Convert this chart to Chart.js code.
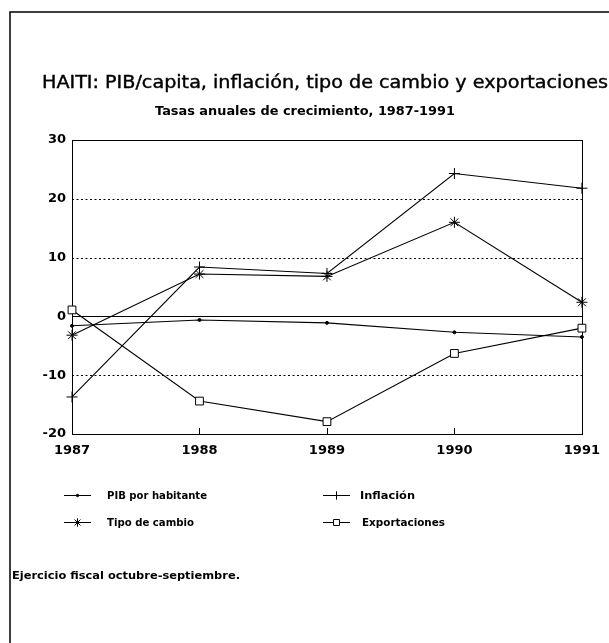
<!DOCTYPE html>
<html>
<head>
<meta charset="utf-8">
<script src="https://cdn.jsdelivr.net/npm/chart.js@4/dist/chart.umd.min.js"></script>
<style>
  html, body { margin: 0; padding: 0; background: #fff; }
  #wrap { position: relative; width: 609px; height: 643px; }
  canvas { display: block; }
</style>
</head>
<body>
<div id="wrap"><canvas id="c" width="609" height="643"></canvas></div>
<script>
// ---- data ----
const years = ['1987', '1988', '1989', '1990', '1991'];
const pibPorHabitante = [-1.6, -0.6, -1.1, -2.7, -3.5];
const inflacion = [-13.7, 8.4, 7.3, 24.3, 21.8];
const tipoDeCambio = [-3.2, 7.2, 6.8, 16.0, 2.4];
const exportaciones = [1.1, -14.4, -17.9, -6.3, -2.0];
const yTicks = [-20, -10, 0, 10, 20, 30];
const seriesNames = ['PIB por habitante', 'Inflación', 'Tipo de cambio', 'Exportaciones'];
const titleText = 'HAITI: PIB/capita, inflación, tipo de cambio y exportaciones';
const subtitleText = 'Tasas anuales de crecimiento, 1987-1991';
const noteText = 'Ejercicio fiscal octubre-septiembre.';

const FONT = '"DejaVu Sans", "Liberation Sans", Arial, sans-serif';

function fitText(ctx, text, x, y, width, font, strokeW) {
  ctx.save();
  ctx.font = font;
  const m = ctx.measureText(text).width;
  const s = width / m;
  ctx.translate(x, y);
  ctx.scale(s, 1);
  ctx.textAlign = 'left';
  ctx.textBaseline = 'alphabetic';
  ctx.fillStyle = '#000';
  ctx.fillText(text, 0, 0);
  if (strokeW) {
    ctx.strokeStyle = '#000';
    ctx.lineWidth = strokeW;
    ctx.strokeText(text, 0, 0);
  }
  ctx.restore();
}

function drawMarker(ctx, style, radius, x, y) {
  const H = Chart.helpers;
  if (H && H.drawPoint) {
    H.drawPoint(ctx, { pointStyle: style, radius: radius, rotation: 0, borderWidth: 1 }, x, y);
  }
}

const decor = {
  id: 'decor',
  beforeDatasetsDraw(chart) {
    const ctx = chart.ctx;
    const a = chart.chartArea;
    const ys = chart.scales.y;
    const xs = chart.scales.x;
    ctx.save();
    ctx.strokeStyle = '#000';
    ctx.lineWidth = 1;
    // dotted grid lines
    ctx.setLineDash([2, 2.5]);
    ys.ticks.forEach(t => {
      if (t.value === ys.min || t.value === ys.max || t.value === 0) return;
      const py = Math.round(ys.getPixelForValue(t.value)) + 0.5;
      ctx.beginPath();
      ctx.moveTo(a.left, py);
      ctx.lineTo(a.right, py);
      ctx.stroke();
    });
    ctx.setLineDash([]);
    // zero line
    const pz = Math.round(ys.getPixelForValue(0)) + 0.5;
    ctx.beginPath();
    ctx.moveTo(a.left, pz);
    ctx.lineTo(a.right, pz);
    ctx.stroke();
    // plot border
    ctx.strokeRect(Math.round(a.left) + 0.5, Math.round(a.top) + 0.5,
      Math.round(a.right - a.left), Math.round(a.bottom - a.top));
    // inward tick marks on bottom axis
    for (let i = 1; i < years.length - 1; i++) {
      const px = Math.round(xs.getPixelForValue(i)) + 0.5;
      ctx.beginPath();
      ctx.moveTo(px, a.bottom);
      ctx.lineTo(px, a.bottom - 6);
      ctx.stroke();
    }
    ctx.restore();
  },
  afterDraw(chart) {
    const ctx = chart.ctx;
    ctx.save();
    ctx.strokeStyle = '#000';
    ctx.lineWidth = 1.5;
    // page frame
    ctx.beginPath();
    ctx.moveTo(10, 643);
    ctx.lineTo(10, 12);
    ctx.lineTo(609, 12);
    ctx.stroke();
    ctx.restore();

    fitText(ctx, titleText, 42, 88, 566, '17px ' + FONT, 0.4);
    fitText(ctx, subtitleText, 155, 115, 300, 'bold 11.5px ' + FONT);

    // legend
    const pos = [
      { lx: 64, tx: 107, y: 495, w: 100 },
      { lx: 323, tx: 360, y: 495, w: 55 },
      { lx: 64, tx: 107, y: 522, w: 87 },
      { lx: 323, tx: 362, y: 522, w: 83 }
    ];
    chart.data.datasets.forEach((ds, i) => {
      const p = pos[i];
      ctx.save();
      ctx.strokeStyle = '#000';
      ctx.lineWidth = 1;
      ctx.beginPath();
      ctx.moveTo(p.lx, p.y + 0.5);
      ctx.lineTo(p.lx + 27, p.y + 0.5);
      ctx.stroke();
      ctx.fillStyle = ds.pointBackgroundColor;
      ctx.strokeStyle = '#000';
      const r = ds.pointStyle === 'circle' ? 1.2 : 4.2;
      drawMarker(ctx, ds.pointStyle, r, p.lx + 13.5, p.y + 0.5);
      ctx.restore();
      fitText(ctx, ds.label, p.tx, p.y + 4, p.w, 'bold 10px ' + FONT);
    });

    fitText(ctx, noteText, 12, 579, 228, 'bold 10px ' + FONT);
  }
};

const common = { borderColor: '#000', borderWidth: 1.1, tension: 0, fill: false,
  pointBorderColor: '#000', pointBorderWidth: 1, pointHoverRadius: 0 };

new Chart(document.getElementById('c'), {
  type: 'line',
  data: {
    labels: years,
    datasets: [
      Object.assign({}, common, { label: seriesNames[0], data: pibPorHabitante,
        pointStyle: 'circle', pointRadius: 1.5, pointBackgroundColor: '#000' }),
      Object.assign({}, common, { label: seriesNames[1], data: inflacion,
        pointStyle: 'cross', pointRadius: 5.5, pointBackgroundColor: '#fff' }),
      Object.assign({}, common, { label: seriesNames[2], data: tipoDeCambio,
        pointStyle: 'star', pointRadius: 5.5, pointBackgroundColor: '#fff' }),
      Object.assign({}, common, { label: seriesNames[3], data: exportaciones,
        pointStyle: 'rect', pointRadius: 5.5, pointBackgroundColor: '#fff' })
    ]
  },
  options: {
    responsive: false,
    animation: false,
    devicePixelRatio: 1,
    layout: { padding: { top: 140, right: 26, bottom: 179, left: 0 } },
    plugins: { legend: { display: false }, title: { display: false }, tooltip: { enabled: false } },
    events: [],
    scales: {
      x: {
        type: 'category',
        offset: false,
        grid: { display: false, drawTicks: false },
        border: { display: false },
        ticks: { color: '#000', font: { family: FONT, size: 13, weight: 'bold' }, padding: 9,
          maxRotation: 0, autoSkip: false },
        afterFit(s) { s.height = 30; }
      },
      y: {
        min: -20, max: 30,
        afterBuildTicks(s) { s.ticks = yTicks.map(v => ({ value: v })); },
        grid: { display: false, drawTicks: false },
        border: { display: false },
        ticks: { color: '#000', font: { family: FONT, size: 13, weight: 'bold' }, padding: 6 },
        afterFit(s) { s.width = 72; }
      }
    }
  },
  plugins: [decor]
});
</script>
</body>
</html>
